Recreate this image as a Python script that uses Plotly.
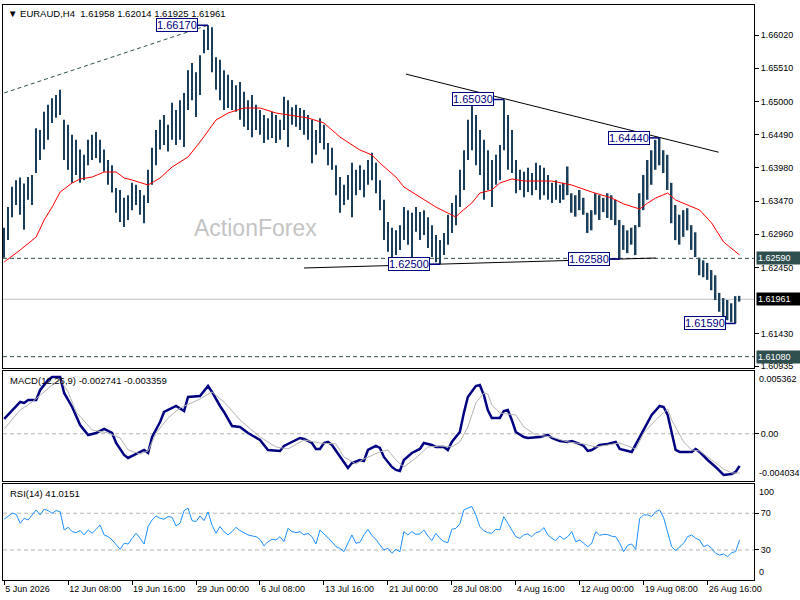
import plotly.graph_objects as go

# 8-hour bars, index 0 = 5 Jun 2026 00:00
bar_high = [
    1.6306, 1.6338, 1.6369, 1.6379, 1.6383, 1.6374, 1.6384, 1.6387, 1.6459, 1.6456,
    1.6484, 1.6495, 1.6505, 1.6510, 1.6518, 1.6472, 1.6464, 1.6449, 1.6441, 1.6426,
    1.6418, 1.6441, 1.6449, 1.6453, 1.6441, 1.6426, 1.6410, 1.6402, 1.6367,
    1.6364, 1.6352, 1.6356, 1.6375, 1.6372, 1.6364, 1.6356, 1.6395, 1.6429, 1.6456,
    1.6472, 1.6479, 1.6464, 1.6498, 1.6487, 1.6502, 1.6513, 1.6548, 1.6559, 1.6545,
    1.6571, 1.6610, 1.6617, 1.6614, 1.6568, 1.6564, 1.6548, 1.6541, 1.6533, 1.6525,
    1.6530, 1.6515, 1.6502, 1.6510, 1.6495, 1.6487, 1.6479, 1.6474, 1.6484, 1.6479,
    1.6472, 1.6507, 1.6502, 1.6491, 1.6495, 1.6490, 1.6487, 1.6479, 1.6472, 1.6456,
    1.6474, 1.6464, 1.6436, 1.6429, 1.6402, 1.6384, 1.6372, 1.6387, 1.6406,
    1.6395, 1.6402, 1.6395, 1.6410, 1.6421, 1.6406, 1.6379, 1.6349, 1.6315, 1.6306,
    1.6302, 1.6310, 1.6338, 1.6333, 1.6329, 1.6338, 1.6330, 1.6333, 1.6322, 1.6310,
    1.6295, 1.6287, 1.6298, 1.6326, 1.6344, 1.6356, 1.6395, 1.6425, 1.6472, 1.6495,
    1.6479, 1.6456, 1.6441, 1.6425, 1.6410, 1.6418, 1.6433, 1.6503, 1.6479, 1.6456,
    1.6410, 1.6395, 1.6392, 1.6398, 1.6390,
    1.6406, 1.6402, 1.6398, 1.6387,
    1.6375, 1.6379, 1.6372, 1.6375, 1.6400, 1.6359, 1.6356, 1.6364, 1.6352, 1.6329,
    1.6333, 1.6359, 1.6356, 1.6352, 1.6359, 1.6356, 1.6349, 1.6318, 1.6310, 1.6302,
    1.6306, 1.6310, 1.6359, 1.6387, 1.6410, 1.6425, 1.6441, 1.6444, 1.6425, 1.6418,
    1.6375, 1.6341, 1.6326, 1.6333, 1.6336,
    1.6310, 1.6299, 1.6260, 1.6256, 1.6252, 1.6241, 1.6233, 1.6206, 1.6198, 1.6195,
    1.6190, 1.6201, 1.62014,
]
bar_low = [
    1.6260, 1.6287, 1.6322, 1.6341, 1.6326, 1.6303, 1.6349, 1.6341, 1.6390, 1.6410,
    1.6426, 1.6441, 1.6467, 1.6475, 1.6479, 1.6410, 1.6395, 1.6375, 1.6387, 1.6375,
    1.6379, 1.6402, 1.6410, 1.6413, 1.6406, 1.6392, 1.6372, 1.6360, 1.6329,
    1.6315, 1.6307, 1.6318, 1.6333, 1.6341, 1.6326, 1.6313, 1.6344, 1.6372, 1.6402,
    1.6426, 1.6433, 1.6423, 1.6441, 1.6433, 1.6441, 1.6430, 1.6487, 1.6502, 1.6476,
    1.6510, 1.6574, 1.6579, 1.6545, 1.6518, 1.6502, 1.6487, 1.6490, 1.6487, 1.6484,
    1.6472, 1.6461, 1.6456, 1.6445, 1.6456, 1.6449, 1.6436, 1.6441, 1.6444, 1.6436,
    1.6441, 1.6456, 1.6430, 1.6464, 1.6461, 1.6456, 1.6449, 1.6441, 1.6405, 1.6418,
    1.6436, 1.6426, 1.6402, 1.6395, 1.6356, 1.6329, 1.6341, 1.6349, 1.6322,
    1.6356, 1.6364, 1.6353, 1.6372, 1.6379, 1.6359, 1.6333, 1.6287, 1.6269, 1.6261,
    1.6264, 1.6272, 1.6287, 1.6280, 1.6261, 1.6300, 1.6287, 1.6295, 1.6275, 1.6261,
    1.6253, 1.6250, 1.6264, 1.6280, 1.6298, 1.6310, 1.6338, 1.6364, 1.6410, 1.6425,
    1.6402, 1.6387, 1.6349, 1.6364, 1.6338, 1.6372, 1.6379, 1.6425, 1.6395, 1.6390,
    1.6359, 1.6364, 1.6353, 1.6361, 1.6356,
    1.6364, 1.6349, 1.6356, 1.6349,
    1.6344, 1.6349, 1.6344, 1.6349, 1.6356, 1.6329, 1.6323, 1.6333, 1.6326, 1.6298,
    1.6302, 1.6326, 1.6318, 1.6330, 1.6321, 1.6318, 1.6310, 1.6258, 1.6272, 1.6267,
    1.6280, 1.6264, 1.6307, 1.6333, 1.6349, 1.6372, 1.6395, 1.6402, 1.6390, 1.6364,
    1.6313, 1.6287, 1.6280, 1.6292, 1.6302,
    1.6272, 1.6261, 1.6233, 1.6230, 1.6226, 1.6210, 1.6195, 1.6177, 1.6167, 1.6164,
    1.6161, 1.6159, 1.61925,
]
bar_idx = list(range(len(bar_high)))

# red moving average
ma_idx = [0, 4, 8, 10, 12, 14, 17, 19, 22, 25, 28, 30, 32, 36, 39, 42, 46, 49, 53, 56,
          60, 64, 68, 71, 76, 80, 84, 89, 92, 94, 98, 100, 104, 108, 113, 114, 117, 119,
          122, 124, 127, 130, 137, 142, 147, 152, 155, 159, 161, 163, 166, 168, 174, 177,
          180, 184]
ma_val = [1.62534, 1.62718, 1.62918, 1.63179, 1.63379, 1.63609, 1.63747, 1.63809, 1.63839,
          1.63916, 1.63916, 1.63824, 1.63793, 1.63716, 1.63824, 1.63993, 1.64147, 1.64377,
          1.64715, 1.64822, 1.64899, 1.64899, 1.64822, 1.64792, 1.64746, 1.64669, 1.64454,
          1.64254, 1.64177, 1.64054, 1.63839, 1.63686, 1.63532, 1.63378, 1.63225, 1.63286,
          1.63440, 1.63593, 1.63640, 1.63747, 1.63809, 1.63778, 1.63778, 1.63716, 1.63609,
          1.63517, 1.63425, 1.63348, 1.63440, 1.63517, 1.63593, 1.63486, 1.63332, 1.63133,
          1.62841, 1.62641]

macd_idx = [0, 2, 4, 5, 6, 8, 9, 11, 12, 14, 15, 17, 19, 21, 23, 25, 27, 28, 30, 31,
            33, 35, 36, 37, 39, 40, 43, 45, 46, 49, 51, 52, 54, 55, 57, 59, 61, 64, 66, 69,
            70, 72, 74, 75, 77, 78, 79, 80, 81, 82, 84, 85, 86, 87, 89, 90, 91, 93, 94, 95,
            97, 98, 99, 100, 102, 104, 105, 107, 108, 110, 111, 112, 114, 115, 116, 118,
            119, 120, 121, 122, 124, 125, 126, 127, 128, 130, 131, 134, 136, 137, 139, 141,
            142, 144, 145, 146, 147, 149, 151, 153, 154, 157, 159, 161, 162, 164, 165, 166,
            167, 168, 169, 172, 173, 174, 176, 178, 180, 182, 183, 184]
macd_val = [0.001263, 0.002031, 0.002715, 0.002629, 0.002885, 0.002885, 0.003739, 0.004593,
            0.004850, 0.004850, 0.003483, 0.002288, 0.000750, -0.000104, 0.000067, 0.000409,
            0.000067, -0.000787, -0.001812, -0.002068, -0.001726, -0.001385, -0.001641,
            -0.000274, 0.001007, 0.001861, 0.002373, 0.001946, 0.003142, 0.003227, 0.004081,
            0.003569, 0.002373, 0.001861, 0.000665, 0.000580, 0.000067, -0.000531, -0.001385,
            -0.001470, -0.001043, -0.000701, -0.000360, -0.000445, -0.000787, -0.001299,
            -0.001299, -0.000787, -0.000701, -0.000958, -0.001982, -0.002495, -0.002922,
            -0.002495, -0.002239, -0.002324, -0.001385, -0.001043, -0.001214, -0.001982,
            -0.002836, -0.003093, -0.003178, -0.002239, -0.001641, -0.001299, -0.000787,
            -0.000958, -0.001128, -0.001128, -0.001385, -0.000701, 0.000153, 0.001775,
            0.003142, 0.004081, 0.004166, 0.003312, 0.002031, 0.001348, 0.001348, 0.001946,
            0.002031, 0.001177, 0.000153, -0.000274, -0.000360, -0.000274, -0.000104,
            -0.000360, -0.000616, -0.000701, -0.000616, -0.000872, -0.001043, -0.001470,
            -0.001385, -0.000958, -0.000872, -0.000701, -0.001299, -0.001555, -0.000274,
            0.000921, 0.001604, 0.002373, 0.002288, 0.001604, 0.000067, -0.001385, -0.001555,
            -0.001555, -0.001299, -0.001555, -0.002239, -0.002836, -0.003519, -0.003434,
            -0.003263, -0.002741]

signal_idx = [0, 4, 7, 12, 14, 16, 18, 22, 26, 29, 31, 34, 36, 38, 41, 44, 49, 52, 55, 59,
              64, 68, 71, 75, 79, 83, 85, 88, 90, 94, 96, 98, 100, 103, 106, 109, 112, 114,
              116, 118, 120, 121, 122, 124, 128, 130, 133, 137, 141, 145, 148, 152, 154, 158,
              160, 163, 166, 167, 170, 172, 174, 177, 180, 182, 184]
signal_val = [0.000409, 0.002031, 0.002715, 0.004166, 0.004593, 0.003569, 0.001861, 0.000323,
              0.000067, -0.000360, -0.001385, -0.001726, -0.001470, 0.000067, 0.001348,
              0.002202, 0.002971, 0.003569, 0.002715, 0.001177, -0.000274, -0.001128,
              -0.001299, -0.000531, -0.000787, -0.000872, -0.001982, -0.002580, -0.002153,
              -0.001555, -0.001385, -0.002239, -0.002836, -0.002068, -0.001128, -0.001043,
              -0.001128, -0.000701, 0.000580, 0.002629, 0.003483, 0.003398, 0.002458,
              0.001775, 0.001604, 0.000580, -0.000104, -0.000274, -0.000701, -0.000872,
              -0.001128, -0.000872, -0.000787, -0.001299, 0.000067, 0.001177, 0.002117,
              0.001177, -0.000701, -0.001385, -0.001470, -0.002239, -0.003007, -0.003349,
              -0.003359]

rsi_val = [
    63.5, 67.1, 70.0, 68.9, 59.1, 64.5, 62.7, 68.2, 73.6, 68.2, 74.4, 72.9, 70.0, 72.9, 71.8,
    51.8, 54.7, 50.0, 48.9, 51.1,
    46.4, 51.8, 48.2, 52.5, 57.3, 46.4, 44.5, 40.9, 35.5,
    30.7, 37.3, 36.5, 42.7, 48.2, 42.7, 36.5, 55.5, 62.7, 67.1,
    64.5, 63.5, 66.4, 65.6, 56.2, 59.1, 72.9, 75.5, 62.0, 60.9,
    67.1, 62.0, 71.5, 57.0, 48.2, 55.5, 50.0, 46.4, 50.0, 54.7,
    51.1, 48.9, 46.4, 45.3, 44.5, 41.6, 34.4, 39.1, 41.6, 40.9,
    44.5, 39.1, 53.6, 50.0, 48.9, 50.0, 46.4, 48.2, 44.5, 36.5,
    51.8, 47.5, 43.8, 39.1, 33.6, 31.8, 28.2, 37.3, 46.4,
    37.3, 38.4, 46.4, 52.5, 45.6, 41.6, 35.5, 30.0, 31.8, 26.4,
    30.7, 28.2, 50.0, 46.4, 50.0, 47.1, 47.5, 51.8, 45.3, 40.2,
    48.2, 42.7, 39.1, 38.0, 52.5, 53.6, 58.4, 73.6, 75.5, 77.3,
    68.2, 55.5, 51.1, 48.9, 48.2, 52.5, 51.8, 66.4, 59.1, 52.0,
    44.5, 42.7, 46.4, 47.5, 44.5,
    48.9, 50.0, 54.4, 46.4,
    42.7, 40.2, 45.3, 41.6, 44.5, 50.0, 39.1, 40.9, 37.3, 33.6,
    37.3, 50.0, 46.0, 47.1, 46.7, 45.0, 44.5, 37.3, 28.2, 35.1,
    36.5, 30.7, 64.5, 68.2, 68.2, 66.4, 71.8, 73.6, 65.0, 48.2,
    33.6, 29.3, 33.6, 37.3, 44.5,
    46.4, 42.7, 40.9, 33.6, 35.5, 31.8, 26.4, 24.5, 25.6, 22.7,
    27.1, 28.2, 41.0151,
]

tick_idx = [0, 16, 32, 48, 64, 80, 96, 112, 128, 144, 160, 176]
tick_text = ["5 Jun 2026", "12 Jun 08:00", "19 Jun 16:00", "29 Jun 00:00", "6 Jul 08:00",
             "13 Jul 16:00", "21 Jul 00:00", "28 Jul 08:00", "4 Aug 16:00", "12 Aug 00:00",
             "19 Aug 08:00", "26 Aug 16:00"]

price_ticks = [1.6602, 1.6551, 1.6500, 1.6449, 1.6398, 1.6347, 1.6296, 1.6245, 1.6143, 1.60935]

# marked highs / lows
mark_idx = [51, 125, 164, 109, 154, 183]
mark_price = [1.6617, 1.6503, 1.6444, 1.6250, 1.6258, 1.6159]

# trend lines: (start idx, start price, end idx, end price)
trend_dashed = [0, 1.6513, 51, 1.6617]
trend_resist = [100.5, 1.6542, 178.75, 1.6422]
trend_support = [75, 1.62442, 163, 1.62595]

level_1 = 1.6259
level_2 = 1.6108
last_price = 1.61961

FONT = "Liberation Sans, Arial, sans-serif"
BAR = "#1a3f5c"
SLATE = "#2f4f4f"
NAVY = "#000080"
XR = [-0.3, 187.6]

fig = go.Figure()
fig.add_trace(go.Bar(x=bar_idx, y=[h - l for h, l in zip(bar_high, bar_low)], base=bar_low,
                     width=0.38, marker=dict(color=BAR, line=dict(width=0)),
                     xaxis="x", yaxis="y", hoverinfo="skip"))
fig.add_trace(go.Scatter(x=ma_idx, y=ma_val, mode="lines", line=dict(color="red", width=1),
                         xaxis="x", yaxis="y"))
fig.add_trace(go.Scatter(x=macd_idx, y=macd_val, mode="lines", line=dict(color=NAVY, width=2.5),
                         xaxis="x2", yaxis="y2"))
fig.add_trace(go.Scatter(x=signal_idx, y=signal_val, mode="lines", line=dict(color="#b4b4b4", width=1),
                         xaxis="x2", yaxis="y2"))
fig.add_trace(go.Scatter(x=bar_idx, y=rsi_val, mode="lines", line=dict(color="#1e90ff", width=1),
                         xaxis="x3", yaxis="y3"))

frame = dict(showline=True, mirror=True, linecolor="black", linewidth=1,
             showgrid=False, zeroline=False)
tfont = dict(family=FONT, size=9, color="black")

fig.update_layout(
    width=800, height=600,
    margin=dict(l=3, r=46, t=5, b=20),
    paper_bgcolor="white", plot_bgcolor="white",
    showlegend=False,
    font=dict(family=FONT, size=9, color="black"),
    xaxis=dict(domain=[0, 1], anchor="y", range=XR, showticklabels=False, ticks="", **frame),
    xaxis2=dict(domain=[0, 1], anchor="y2", matches="x", range=XR, showticklabels=False, ticks="", **frame),
    xaxis3=dict(domain=[0, 1], anchor="y3", matches="x", range=XR, tickvals=tick_idx, ticktext=tick_text,
                ticks="outside", ticklen=4, tickcolor="black", ticklabelposition="outside right",
                tickfont=tfont, **frame),
    yaxis=dict(domain=[0.3687, 1], anchor="x", side="right", range=[1.60906, 1.66481],
               tickvals=price_ticks, ticktext=[f"{v:.5f}" for v in price_ticks],
               ticks="outside", ticklen=4, tickcolor="black", tickfont=tfont, **frame),
    yaxis2=dict(domain=[0.1722, 0.3635], anchor="x2", side="right", range=[-0.004034, 0.005362],
                tickvals=[0], ticktext=["0.00"], ticks="outside", ticklen=4, tickcolor="black",
                tickfont=tfont, **frame),
    yaxis3=dict(domain=[0, 0.167], anchor="x3", side="right", range=[-2.7, 101.9],
                tickvals=[70, 30], ticktext=["70", "30"], ticks="outside", ticklen=4, tickcolor="black",
                tickfont=tfont, **frame),
)

dash = "4px,3px"
# horizontal levels
fig.add_shape(type="line", xref="paper", yref="y", x0=0, x1=1, y0=last_price, y1=last_price,
              line=dict(color="#c0c0c0", width=1), layer="below")
for lv in [level_1, level_2]:
    fig.add_shape(type="line", xref="paper", yref="y", x0=0, x1=1, y0=lv, y1=lv,
                  line=dict(color=SLATE, width=1, dash=dash))
# indicator levels
fig.add_shape(type="line", xref="paper", yref="y2", x0=0, x1=1, y0=0, y1=0,
              line=dict(color="#b4b4b4", width=1, dash=dash), layer="below")
for lv in [70, 30]:
    fig.add_shape(type="line", xref="paper", yref="y3", x0=0, x1=1, y0=lv, y1=lv,
                  line=dict(color="#b4b4b4", width=1, dash=dash), layer="below")

# trend lines
fig.add_shape(type="line", xref="x", yref="y", x0=trend_dashed[0], y0=trend_dashed[1],
              x1=trend_dashed[2], y1=trend_dashed[3], line=dict(color=SLATE, width=1, dash=dash))
for t in [trend_resist, trend_support]:
    fig.add_shape(type="line", xref="x", yref="y", x0=t[0], y0=t[1], x1=t[2], y1=t[3],
                  line=dict(color="black", width=1))

# price labels on the marked highs / lows
for i, p in zip(mark_idx, mark_price):
    fig.add_shape(type="line", xref="x", yref="y", xsizemode="pixel", xanchor=i, x0=-11, x1=0,
                  y0=p, y1=p, line=dict(color=NAVY, width=1.5))
    fig.add_annotation(x=i, y=p, xref="x", yref="y", text=f"{p:.5f}", showarrow=False,
                       xanchor="right", xshift=-10, font=dict(family=FONT, size=11, color=NAVY),
                       bgcolor="white", bordercolor=NAVY, borderwidth=1, borderpad=0)

# right-side value tags
for val, bg in [(level_1, SLATE), (last_price, "black"), (level_2, SLATE)]:
    fig.add_annotation(x=1, y=val, xref="paper", yref="y", text=f"{val:.5f}", showarrow=False,
                       xanchor="left", xshift=2, width=42, align="left",
                       font=dict(family=FONT, size=9, color="white"), bgcolor=bg, borderpad=1)

edge = [("y2 domain", 1, "top", "0.005362"), ("y2 domain", 0, "bottom", "-0.004034"),
        ("y3 domain", 1, "top", "100"), ("y3 domain", 0, "bottom", "0")]
for yref, yv, ya, txt in edge:
    fig.add_annotation(x=1, y=yv, xref="paper", yref=yref, text=txt, showarrow=False,
                       xanchor="left", yanchor=ya, xshift=3, yshift=(-1 if ya == "top" else 1),
                       font=tfont)

# panel captions
nb = "\u00a0"
fig.add_annotation(x=0, y=1, xref="paper", yref="paper", xanchor="left", yanchor="top",
                   xshift=3, yshift=-1, showarrow=False,
                   text=f"\u25bc{nb}EURAUD,H4{nb}{nb}1.61958 1.62014 1.61925 1.61961",
                   font=dict(family=FONT, size=9.5, color="black"))
fig.add_annotation(x=0, y=1, xref="paper", yref="y2 domain", xanchor="left", yanchor="top",
                   xshift=5, yshift=-2, showarrow=False,
                   text="MACD(12,26,9) -0.002741 -0.003359", font=dict(family=FONT, size=9.5, color="black"))
fig.add_annotation(x=0, y=1, xref="paper", yref="y3 domain", xanchor="left", yanchor="top",
                   xshift=5, yshift=-2, showarrow=False,
                   text="RSI(14) 41.0151", font=dict(family=FONT, size=9.5, color="black"))

# watermark
fig.add_annotation(x=0.3356, y=0.612, xref="paper", yref="paper", showarrow=False,
                   text="ActionForex", font=dict(family=FONT, size=23, color="#c4c4c4"))

# page body has a default margin; remove it so the 800x600 figure fills the window
fig.write_html("out.html", config={"displayModeBar": False},
               post_script="document.body.style.margin='0';")
